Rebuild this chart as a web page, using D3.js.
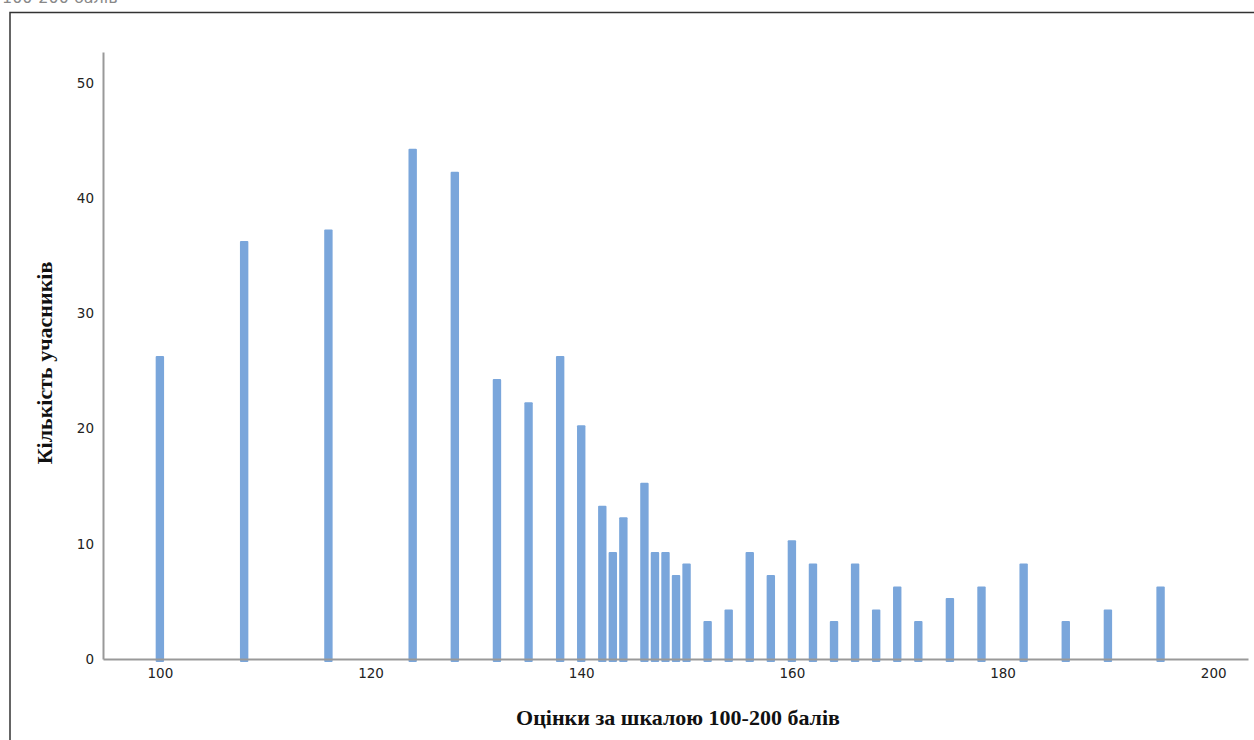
<!DOCTYPE html>
<html><head><meta charset="utf-8">
<script src="https://cdn.jsdelivr.net/npm/d3@7"></script>
<style>body{margin:0;background:#fff}svg{display:block}</style>
</head><body>
<svg id="c" width="1254" height="740"></svg>
<script>
const scores = [100,108,116,124,128,132,135,138,140,142,143,144,146,147,148,149,150,152,154,156,158,160,162,164,166,168,170,172,175,178,182,186,190,195];
const counts = [26,36,37,44,42,24,22,26,20,13,9,12,15,9,9,7,8,3,4,9,7,10,8,3,8,4,6,3,5,6,8,3,4,6];
const xTicks = [100,120,140,160,180,200];
const yTicks = [0,10,20,30,40,50];
const xTitle = "Оцінки за шкалою 100-200 балів";
const yTitle = "Кількість учасників";

const svg = d3.select("#c");
const x = d3.scaleLinear().domain([94.6, 203.3]).range([103, 1248]);
const y = d3.scaleLinear().domain([0, 52.7]).range([659, 52]);

// cut-off text at top
svg.append("text").attr("x", 2).attr("y", 3).attr("font-family","DejaVu Sans").attr("font-size",16).attr("fill","#888").text("100-200 балів");

// frame
svg.append("rect").attr("x",10).attr("y",12.5).attr("width",1260).attr("height",740).attr("fill","none").attr("stroke","#333").attr("stroke-width",1.5);

// bars
svg.append("g").selectAll("rect").data(scores).join("rect")
  .attr("x", (d)=>x(d)-4.2).attr("width",8.4)
  .attr("y", (d,i)=>y(counts[i]+0.3))
  .attr("height", (d,i)=>y(0)+3-y(counts[i]+0.3))
  .attr("rx",1)
  .attr("fill","#7aa6db");

// axes
const xa = svg.append("g").attr("transform","translate(0,659)")
  .call(d3.axisBottom(x).tickValues(xTicks).tickSize(0).tickPadding(9).tickFormat(d3.format("d")));
xa.select(".domain").attr("stroke","#999").attr("stroke-width",2);
const ya = svg.append("g").attr("transform","translate(103,0)")
  .call(d3.axisLeft(y).tickValues(yTicks).tickSize(0).tickPadding(9).tickFormat(d3.format("d")));
ya.select(".domain").attr("stroke","#999").attr("stroke-width",2);
svg.selectAll(".tick text").attr("font-family","DejaVu Sans").attr("font-size",13.5).attr("fill","#222");

svg.append("text").attr("x",678).attr("y",725).attr("text-anchor","middle")
  .attr("font-family","Liberation Serif").attr("font-weight","bold").attr("font-size",22).attr("fill","#111").text(xTitle);
svg.append("text").attr("transform","translate(52,363) rotate(-90)").attr("text-anchor","middle")
  .attr("font-family","Liberation Serif").attr("font-weight","bold").attr("font-size",22).attr("fill","#111").text(yTitle);
</script>
</body></html>
